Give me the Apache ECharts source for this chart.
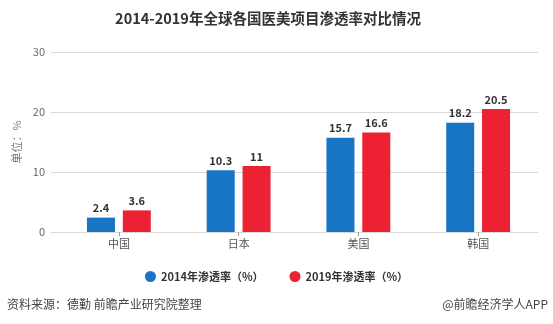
<!DOCTYPE html>
<html><head><meta charset="utf-8">
<script src="https://cdn.jsdelivr.net/npm/echarts@6/dist/echarts.min.js"></script>
<style>html,body{margin:0;padding:0;background:#fff}#c{width:553px;height:324px}</style>
</head><body><div id="c"></div>
<script>
const titleText = '2014-2019年全球各国医美项目渗透率对比情况';
const categories = ['中国', '日本', '美国', '韩国'];
const series2014 = [2.4, 10.3, 15.7, 18.2];
const series2019 = [3.6, 11, 16.6, 20.5];
const seriesNames = ['2014年渗透率（%）', '2019年渗透率（%）'];
const yTicks = [0, 10, 20, 30];
const yName = '单位：%';
const sourceText = '资料来源：德勤 前瞻产业研究院整理';
const brandText = '@前瞻经济学人APP';

const FONT = '"Noto Sans CJK SC", "Microsoft YaHei", sans-serif';
const chart = echarts.init(document.getElementById('c'));
const labelStyle = {show: true, position: 'top', distance: 4, color: '#333', fontWeight: 'bold', fontSize: 11, fontFamily: FONT};
chart.setOption({
  animation: false,
  textStyle: {fontFamily: FONT},
  title: [
    {text: titleText, left: 263, textAlign: 'center', top: 6, textStyle: {fontSize: 14.5, fontWeight: 'bold', color: '#333', fontFamily: FONT}},
  ],
  graphic: [
    {type: 'text', left: 7, top: 298, style: {text: sourceText, fontSize: 12, fill: '#444', fontFamily: FONT}},
    {type: 'text', right: 5, top: 298, style: {text: brandText, fontSize: 12, fill: '#444', fontFamily: FONT}}
  ],
  legend: {
    data: seriesNames, left: 'center', top: 266, itemGap: 26,
    icon: 'circle', itemWidth: 11, itemHeight: 11,
    textStyle: {fontSize: 11, fontWeight: 'bold', color: '#333', fontFamily: FONT}
  },
  grid: [
    {left: 51, right: 15, top: 52, bottom: 92},
    {left: 59, right: 15, top: 52, bottom: 92}
  ],
  xAxis: [
    {gridIndex: 0, type: 'category', data: categories, show: false},
    {gridIndex: 1, type: 'category', data: categories,
     axisLine: {show: false},
     axisTick: {show: true, alignWithLabel: true, length: 4, lineStyle: {color: '#999'}},
     axisLabel: {fontSize: 11, color: '#555', margin: 6, fontFamily: FONT}}
  ],
  yAxis: [
    {gridIndex: 0, type: 'value', min: yTicks[0], max: yTicks[yTicks.length - 1], interval: 10,
     name: yName, nameLocation: 'middle', nameGap: 24, nameRotate: 90,
     nameTextStyle: {fontSize: 11, color: '#777', fontFamily: FONT},
     axisLine: {show: false}, axisTick: {show: false},
     axisLabel: {fontSize: 11, color: '#666', margin: 6},
     splitLine: {lineStyle: {color: '#d9d9d9'}}},
    {gridIndex: 1, type: 'value', min: yTicks[0], max: yTicks[yTicks.length - 1], interval: 10, show: false, splitLine: {show: false}}
  ],
  series: [
    {name: seriesNames[0], type: 'bar', xAxisIndex: 1, yAxisIndex: 1, data: series2014,
     barWidth: 28, barGap: '28%', itemStyle: {color: '#1874C4'}, label: labelStyle},
    {name: seriesNames[1], type: 'bar', xAxisIndex: 1, yAxisIndex: 1, data: series2019,
     barWidth: 28, barGap: '28%', itemStyle: {color: '#EC2134'}, label: labelStyle}
  ]
});
</script></body></html>
